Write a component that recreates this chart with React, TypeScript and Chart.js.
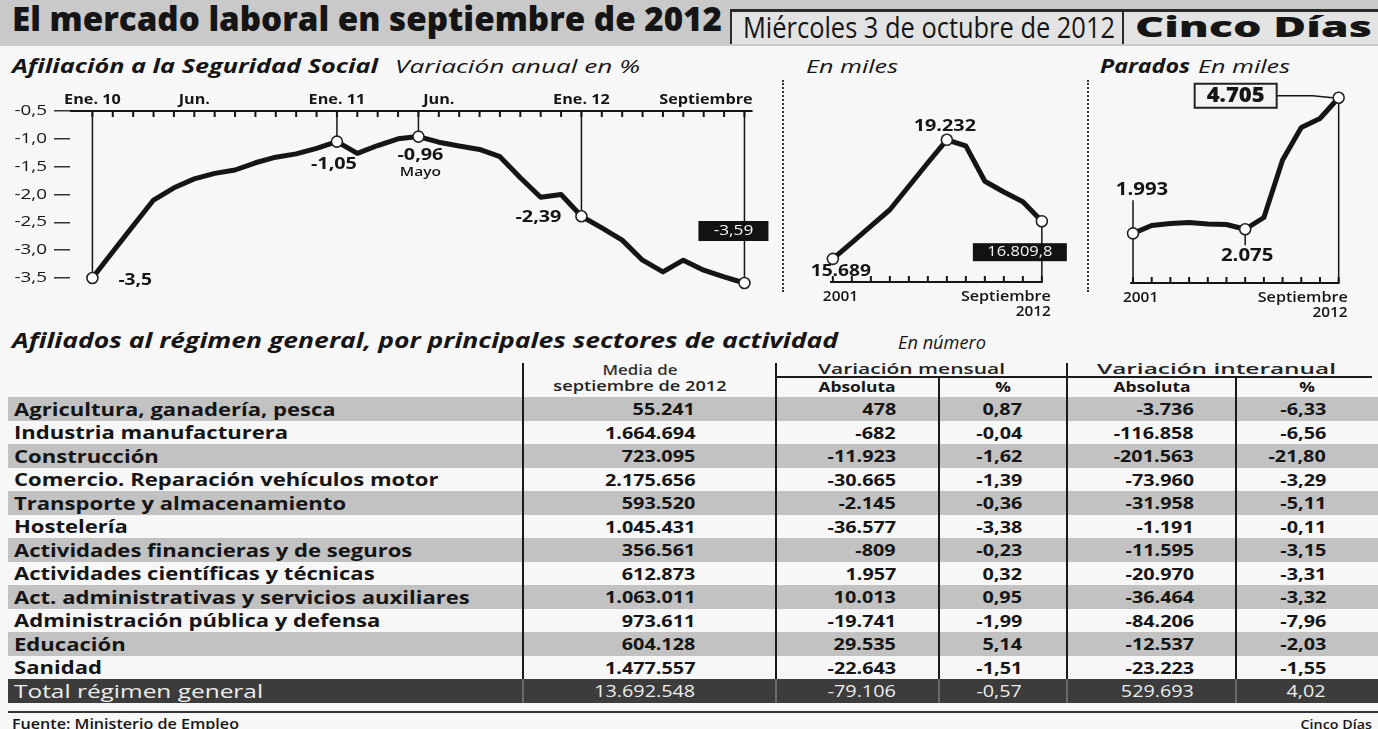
import React, { useEffect, useLayoutEffect, useRef } from 'react';
import { Chart, registerables } from 'chart.js';
Chart.register(...registerables);

const FONT = '"Open Sans", "Noto Sans", "DejaVu Sans", sans-serif';
const INK = '#151515';
const W = 1378;
const H = 729;
const SX = 1.2;

// ---------------- data ----------------
// Afiliación a la Seguridad Social, variación anual en % (Ene. 2010 - Sep. 2012)
const afiliacionVariacion = [
  -3.5, -3.03, -2.56, -2.1, -1.88, -1.72, -1.62, -1.56, -1.43, -1.33, -1.27, -1.17,
  -1.05, -1.26, -1.12, -1.0, -0.96, -1.06, -1.13, -1.19, -1.32, -1.7, -2.05, -2.0,
  -2.39, -2.6, -2.82, -3.18, -3.39, -3.18, -3.36, -3.48, -3.59,
];
const afiliacionEjeTexto = ['Ene. 10', 'Jun.', 'Ene. 11', 'Jun.', 'Ene. 12', 'Septiembre'];
const afiliacionEjeMes = [0, 5, 12, 17, 24, 32];
const afiliacionMarcas = [0, 12, 16, 24, 32];
const afiliacionMarcasTexto = ['-3,5', '-1,05', '-0,96', '-2,39', '-3,59'];

// Afiliados, en miles (2001 - septiembre 2012)
const anios = [2001, 2002, 2003, 2004, 2005, 2006, 2007, 2008, 2009, 2010, 2011, 2012];
const afiliadosMiles = [15.689, 16.17, 16.66, 17.15, 17.85, 18.55, 19.232, 19.05, 18.0, 17.68, 17.39, 16.8098];
const afiliadosMarcas = [0, 6, 11];
const afiliadosMarcasTexto = ['15.689', '19.232', '16.809,8'];

// Parados, en miles
const paradosMiles = [1.993, 2.15, 2.19, 2.21, 2.18, 2.17, 2.075, 2.31, 3.46, 4.11, 4.29, 4.705];
const paradosMarcas = [0, 6, 11];
const paradosMarcasTexto = ['1.993', '2.075', '4.705'];

// Tabla
const sectores = [
  'Agricultura, ganadería, pesca',
  'Industria manufacturera',
  'Construcción',
  'Comercio. Reparación vehículos motor',
  'Transporte y almacenamiento',
  'Hostelería',
  'Actividades financieras y de seguros',
  'Actividades científicas y técnicas',
  'Act. administrativas y servicios auxiliares',
  'Administración pública y defensa',
  'Educación',
  'Sanidad',
  'Total régimen general',
];
const mediaSeptiembre = ['55.241', '1.664.694', '723.095', '2.175.656', '593.520', '1.045.431', '356.561', '612.873', '1.063.011', '973.611', '604.128', '1.477.557', '13.692.548'];
const mensualAbsoluta = ['478', '-682', '-11.923', '-30.665', '-2.145', '-36.577', '-809', '1.957', '10.013', '-19.741', '29.535', '-22.643', '-79.106'];
const mensualPct = ['0,87', '-0,04', '-1,62', '-1,39', '-0,36', '-3,38', '-0,23', '0,32', '0,95', '-1,99', '5,14', '-1,51', '-0,57'];
const interanualAbsoluta = ['-3.736', '-116.858', '-201.563', '-73.960', '-31.958', '-1.191', '-11.595', '-20.970', '-36.464', '-84.206', '-12.537', '-23.223', '529.693'];
const interanualPct = ['-6,33', '-6,56', '-21,80', '-3,29', '-5,11', '-0,11', '-3,15', '-3,31', '-3,32', '-7,96', '-2,03', '-1,55', '4,02'];

// ---------------- canvas helpers ----------------
type Ctx = CanvasRenderingContext2D;
function seg(ctx: Ctx, x1: number, y1: number, x2: number, y2: number, w = 1.5, color = INK) {
  ctx.save();
  ctx.strokeStyle = color;
  ctx.lineWidth = w;
  ctx.beginPath();
  ctx.moveTo(x1, y1);
  ctx.lineTo(x2, y2);
  ctx.stroke();
  ctx.restore();
}
function txt(
  ctx: Ctx,
  s: string,
  x: number,
  y: number,
  o: { size?: number; weight?: number; align?: CanvasTextAlign; color?: string; sx?: number } = {}
) {
  const { size = 14, weight = 700, align = 'center', color = INK, sx = SX } = o;
  ctx.save();
  ctx.font = `${weight} ${size}px ${FONT}`;
  ctx.fillStyle = color;
  ctx.textAlign = align;
  ctx.textBaseline = 'middle';
  ctx.translate(x, y);
  ctx.scale(sx, 1);
  ctx.fillText(s, 0, 0);
  ctx.restore();
}
function rect(ctx: Ctx, x1: number, y1: number, x2: number, y2: number, fill: string, stroke?: string, lw = 2) {
  ctx.save();
  ctx.fillStyle = fill;
  ctx.fillRect(x1, y1, x2 - x1, y2 - y1);
  if (stroke) {
    ctx.strokeStyle = stroke;
    ctx.lineWidth = lw;
    ctx.strokeRect(x1, y1, x2 - x1, y2 - y1);
  }
  ctx.restore();
}

const lineDataset = (data: { x: number; y: number }[], marks: number[]) => ({
  data,
  borderColor: INK,
  borderWidth: 5,
  tension: 0,
  clip: false as any,
  borderJoinStyle: 'round' as const,
  borderCapStyle: 'round' as const,
  pointRadius: (c: any) => (marks.includes(c.dataIndex) ? 5.5 : 0),
  pointBackgroundColor: '#ffffff',
  pointBorderColor: '#222',
  pointBorderWidth: 1.6,
  pointHoverRadius: 0,
});

function afiliacionConfig(): any {
  const deco = {
    id: 'afiliacionDeco',
    beforeDatasetsDraw(chart: any) {
      const { ctx, chartArea: a, scales } = chart;
      const x = scales.x;
      const y = scales.y;
      for (const t of y.ticks) {
        txt(ctx, Number(t.value).toFixed(1).replace('.', ','), a.left - 23, y.getPixelForValue(t.value), {
          size: 14.5,
          weight: 400,
          align: 'right',
          sx: 1.3,
        });
      }
      seg(ctx, a.left, a.top, a.right, a.top, 2);
      afiliacionVariacion.forEach((_, i) => {
        const px = x.getPixelForValue(i);
        seg(ctx, px, a.top, px, a.top + 6, 2);
      });
      afiliacionMarcas.forEach((i) => {
        const px = x.getPixelForValue(i);
        seg(ctx, px, a.top, px, y.getPixelForValue(afiliacionVariacion[i]), 1.5);
      });
      afiliacionEjeMes.forEach((m, k) => {
        const last = k === afiliacionEjeMes.length - 1;
        txt(ctx, afiliacionEjeTexto[k], last ? a.right : x.getPixelForValue(m), a.top - 11, {
          size: 13.5,
          weight: 700,
          align: last ? 'right' : 'center',
        });
      });
    },
    afterDatasetsDraw(chart: any) {
      const { ctx, scales } = chart;
      const p = afiliacionMarcas.map((i) => [scales.x.getPixelForValue(i), scales.y.getPixelForValue(afiliacionVariacion[i])]);
      const T = afiliacionMarcasTexto;
      txt(ctx, T[0], p[0][0] + 26, p[0][1] + 2, { size: 16, align: 'left' });
      txt(ctx, T[1], p[1][0] - 3, p[1][1] + 23, { size: 16.5 });
      txt(ctx, T[2], p[2][0] + 2, p[2][1] + 19, { size: 16.5 });
      txt(ctx, 'Mayo', p[2][0] + 2, p[2][1] + 36, { size: 13, weight: 600 });
      txt(ctx, T[3], p[3][0] - 20, p[3][1] + 1, { size: 16.5, align: 'right' });
      rect(ctx, p[4][0] - 46, p[4][1] - 62, p[4][0] + 24, p[4][1] - 42, '#121212');
      txt(ctx, T[4], p[4][0] - 11, p[4][1] - 52, { size: 15, weight: 400, color: '#f4f4f4', sx: 1.15 });
    },
  };
  return {
    type: 'line',
    data: { datasets: [lineDataset(afiliacionVariacion.map((v, i) => ({ x: i, y: v })), afiliacionMarcas)] },
    options: {
      responsive: false,
      animation: false,
      events: [],
      layout: { padding: { left: 0, top: 26, right: 17.4, bottom: 22 } },
      plugins: { legend: { display: false }, tooltip: { enabled: false } },
      scales: {
        x: { type: 'linear', display: false, min: -1.1, max: 32.4 },
        y: {
          type: 'linear',
          position: 'left',
          min: -3.5,
          max: -0.5,
          afterFit: (s: any) => {
            s.width = 70;
          },
          ticks: { stepSize: 0.5, display: false },
          grid: { drawOnChartArea: false, drawTicks: true, tickLength: 16, color: '#333', lineWidth: 1.5 },
          border: { display: false },
        },
      },
    },
    plugins: [deco],
  };
}

function yearAxis(ctx: Ctx, a: any, x: any) {
  seg(ctx, a.left, a.bottom, a.right, a.bottom, 2);
  anios.forEach((yr) => {
    const px = x.getPixelForValue(yr);
    seg(ctx, px, a.bottom, px, a.bottom - 6, 2);
  });
  const first = x.getPixelForValue(anios[0]);
  const last = x.getPixelForValue(anios[anios.length - 1]);
  txt(ctx, String(anios[0]), first - 10, a.bottom + 15, { size: 14, weight: 600, align: 'left', sx: 1.1 });
  txt(ctx, 'Septiembre', last + 9, a.bottom + 15, { size: 14, weight: 600, align: 'right', sx: 1.15 });
  txt(ctx, String(anios[anios.length - 1]), last + 9, a.bottom + 30, { size: 14, weight: 600, align: 'right', sx: 1.1 });
}

function afiliadosConfig(): any {
  const deco = {
    id: 'afiliadosDeco',
    beforeDatasetsDraw(chart: any) {
      const { ctx, chartArea: a, scales } = chart;
      yearAxis(ctx, a, scales.x);
      const i = afiliadosMarcas[2];
      const px = scales.x.getPixelForValue(anios[i]);
      seg(ctx, px, scales.y.getPixelForValue(afiliadosMiles[i]), px, a.bottom, 1.5);
    },
    afterDatasetsDraw(chart: any) {
      const { ctx, scales } = chart;
      const p = afiliadosMarcas.map((i) => [scales.x.getPixelForValue(anios[i]), scales.y.getPixelForValue(afiliadosMiles[i])]);
      const T = afiliadosMarcasTexto;
      txt(ctx, T[0], p[0][0] + 8, p[0][1] + 13, { size: 16 });
      txt(ctx, T[1], p[1][0] - 2, p[1][1] - 14, { size: 16.5 });
      rect(ctx, p[2][0] - 69, p[2][1] + 22, p[2][0] + 25, p[2][1] + 40, '#121212');
      txt(ctx, T[2], p[2][0] - 22, p[2][1] + 31, { size: 15, weight: 400, color: '#f4f4f4', sx: 1.1 });
    },
  };
  return {
    type: 'line',
    data: { datasets: [lineDataset(afiliadosMiles.map((v, i) => ({ x: anios[i], y: v })), afiliadosMarcas)] },
    options: {
      responsive: false,
      animation: false,
      events: [],
      layout: { padding: { left: 40, top: 14, right: 37.2, bottom: 43 } },
      plugins: { legend: { display: false }, tooltip: { enabled: false } },
      scales: {
        x: { type: 'linear', display: false, min: 2000.85, max: 2012.05 },
        y: { type: 'linear', display: false, min: 15, max: 20 },
      },
    },
    plugins: [deco],
  };
}

function paradosConfig(): any {
  const deco = {
    id: 'paradosDeco',
    beforeDatasetsDraw(chart: any) {
      const { ctx, chartArea: a, scales } = chart;
      yearAxis(ctx, a, scales.x);
      const p = paradosMarcas.map((i) => [scales.x.getPixelForValue(anios[i]), scales.y.getPixelForValue(paradosMiles[i])]);
      seg(ctx, p[0][0], p[0][1] - 33, p[0][0], a.bottom, 1.5);
      seg(ctx, p[1][0], p[1][1], p[1][0], p[1][1] + 16, 1.5);
      seg(ctx, p[2][0], p[2][1], p[2][0], a.bottom, 1.5);
    },
    afterDatasetsDraw(chart: any) {
      const { ctx, scales } = chart;
      const p = paradosMarcas.map((i) => [scales.x.getPixelForValue(anios[i]), scales.y.getPixelForValue(paradosMiles[i])]);
      const T = paradosMarcasTexto;
      txt(ctx, T[0], p[0][0] + 9, p[0][1] - 43, { size: 17 });
      txt(ctx, T[1], p[1][0] + 2, p[1][1] + 27, { size: 17 });
      ctx.save();
      ctx.strokeStyle = INK;
      ctx.lineWidth = 1.5;
      ctx.beginPath();
      ctx.moveTo(p[2][0] - 62, p[2][1] - 2);
      ctx.lineTo(p[2][0] - 26, p[2][1] - 2);
      ctx.lineTo(p[2][0] - 6, p[2][1]);
      ctx.stroke();
      ctx.restore();
      rect(ctx, p[2][0] - 144, p[2][1] - 14, p[2][0] - 62, p[2][1] + 10, '#f3f3f3', '#222', 2);
      txt(ctx, T[2], p[2][0] - 103, p[2][1] - 2, { size: 21, weight: 800, sx: 1.05 });
    },
  };
  return {
    type: 'line',
    data: { datasets: [lineDataset(paradosMiles.map((v, i) => ({ x: anios[i], y: v })), paradosMarcas)] },
    options: {
      responsive: false,
      animation: false,
      events: [],
      layout: { padding: { left: 35.2, top: 8, right: 38.4, bottom: 42 } },
      plugins: { legend: { display: false }, tooltip: { enabled: false } },
      scales: {
        x: { type: 'linear', display: false, min: 2000.85, max: 2012.05 },
        y: { type: 'linear', display: false, min: 1, max: 5 },
      },
    },
    plugins: [deco],
  };
}

function ChartCanvas({ left, top, width, height, make }: any) {
  const ref = useRef<HTMLCanvasElement>(null);
  useEffect(() => {
    const chart = new Chart(ref.current as HTMLCanvasElement, make());
    return () => chart.destroy();
  }, []);
  return <canvas ref={ref} width={width} height={height} style={{ position: 'absolute', left, top, width, height }} />;
}

// ---------------- DOM text helpers ----------------
function Fit({ x, y, w, size, weight = 400, italic = false, color = INK, children }: any) {
  const ref = useRef<HTMLSpanElement>(null);
  useLayoutEffect(() => {
    const el = ref.current;
    if (!el) return;
    el.style.transform = 'none';
    const nat = el.getBoundingClientRect().width;
    if (nat > 0) el.style.transform = `scaleX(${w / nat})`;
  }, [w, children]);
  return (
    <span
      ref={ref}
      style={{
        position: 'absolute',
        left: x,
        top: y - size * 0.7,
        fontSize: size,
        lineHeight: `${size * 1.4}px`,
        fontWeight: weight,
        fontStyle: italic ? 'italic' : 'normal',
        whiteSpace: 'nowrap',
        transformOrigin: 'left center',
        color,
        fontFamily: FONT,
      }}
    >
      {children}
    </span>
  );
}

function Cell({ x, y, align = 'left', size = 17, weight = 700, color = INK, sx = SX, children }: any) {
  const style: any = {
    position: 'absolute',
    top: y - size * 0.7,
    fontSize: size,
    lineHeight: `${size * 1.4}px`,
    fontWeight: weight,
    color,
    whiteSpace: 'nowrap',
    fontFamily: FONT,
  };
  if (align === 'left') {
    style.left = x;
    style.transformOrigin = 'left center';
    style.transform = `scaleX(${sx})`;
  } else if (align === 'right') {
    style.right = W - x;
    style.transformOrigin = 'right center';
    style.transform = `scaleX(${sx})`;
  } else {
    style.left = x;
    style.transformOrigin = 'center center';
    style.transform = `translateX(-50%) scaleX(${sx})`;
  }
  return <div style={style}>{children}</div>;
}

const box = (left: number, top: number, width: number, height: number, background: string) => (
  <div style={{ position: 'absolute', left, top, width, height, background }} />
);

export default function App() {
  const ROW0 = 397;
  const ROWH = 23.5;
  const nRows = sectores.length;
  const colRight = [695, 896, 1022, 1194, 1326];
  const cols = [mediaSeptiembre, mensualAbsoluta, mensualPct, interanualAbsoluta, interanualPct];
  const tableBottom = ROW0 + (nRows - 1) * ROWH;
  const vlines = [
    [523, 363],
    [776, 363],
    [939, 377],
    [1067, 363],
    [1236, 377],
  ];

  return (
    <div style={{ position: 'absolute', left: 0, top: 0, width: W, height: H, overflow: 'hidden', background: '#f7f7f7', fontFamily: FONT }}>
      {/* header band */}
      {box(0, 0, W, 46, '#c9c9c9')}
      <div
        style={{
          position: 'absolute',
          left: 730,
          top: 9,
          width: W - 730,
          height: 35,
          background: '#e3e3e3',
          borderTop: '3px solid #2a2a2a',
          borderLeft: '2px solid #2a2a2a',
          boxSizing: 'border-box',
        }}
      />
      {box(1122, 10, 2, 34, '#2a2a2a')}
      <Fit x={12} y={19} w={710} size={34} weight={800}>El mercado laboral en septiembre de 2012</Fit>
      <Fit x={743} y={27} w={372} size={29} weight={500}>Miércoles 3 de octubre de 2012</Fit>
      <Fit x={1135} y={27} w={237} size={28} weight={800}>Cinco Días</Fit>

      {/* sub titles */}
      <Fit x={12} y={66} w={366} size={19} weight={700} italic>Afiliación a la Seguridad Social</Fit>
      <Fit x={395} y={67} w={245} size={18} weight={400} italic>Variación anual en %</Fit>
      <Fit x={806} y={67} w={92} size={18} weight={400} italic>En miles</Fit>
      <Fit x={1100} y={66} w={90} size={19} weight={700} italic>Parados</Fit>
      <Fit x={1198} y={67} w={92} size={18} weight={400} italic>En miles</Fit>

      {/* dotted separators */}
      <div style={{ position: 'absolute', left: 782, top: 80, height: 212, borderLeft: '2px dotted #333' }} />
      <div style={{ position: 'absolute', left: 1087, top: 80, height: 212, borderLeft: '2px dotted #333' }} />

      {/* charts */}
      <ChartCanvas left={0} top={85} width={770} height={215} make={afiliacionConfig} />
      <ChartCanvas left={790} top={100} width={290} height={225} make={afiliadosConfig} />
      <ChartCanvas left={1095} top={75} width={283} height={250} make={paradosConfig} />

      {/* table title */}
      <Fit x={12} y={341} w={826} size={21} weight={700} italic>Afiliados al régimen general, por principales sectores de actividad</Fit>
      <Fit x={898} y={343} w={88} size={18} weight={400} italic>En número</Fit>

      {/* stripes */}
      {sectores.map((_, i) =>
        i % 2 === 0 ? (
          <div
            key={'s' + i}
            style={{
              position: 'absolute',
              left: 8,
              top: ROW0 + i * ROWH,
              width: W - 8,
              height: ROWH,
              background: i === nRows - 1 ? '#3c3c3c' : '#c2c2c2',
            }}
          />
        ) : null
      )}

      {/* grid lines */}
      {vlines.map(([x, t]) => (
        <div key={'v' + x} style={{ position: 'absolute', left: x - 1, top: t, width: 2, height: tableBottom - t, background: '#1a1a1a' }} />
      ))}
      {vlines.map(([x]) => (
        <div key={'vt' + x} style={{ position: 'absolute', left: x - 1, top: tableBottom, width: 2, height: ROWH, background: '#6a6a6a' }} />
      ))}
      {box(776, 376, 1372 - 776, 1.5, '#1a1a1a')}

      {/* header texts */}
      <Cell x={640} y={370} align="center" size={13.5} weight={600} color="#333" sx={1.25}>Media de</Cell>
      <Cell x={640} y={386} align="center" size={14} weight={600} color="#222" sx={1.3}>septiembre de 2012</Cell>
      <Fit x={818} y={368} w={187} size={15} weight={600} color="#222">Variación mensual</Fit>
      <Fit x={1097} y={368} w={239} size={15} weight={600} color="#222">Variación interanual</Fit>
      <Cell x={857} y={387} align="center" size={14.5} weight={700}>Absoluta</Cell>
      <Cell x={1003} y={387} align="center" size={14.5} weight={700}>%</Cell>
      <Cell x={1152} y={387} align="center" size={14.5} weight={700}>Absoluta</Cell>
      <Cell x={1307} y={387} align="center" size={14.5} weight={700}>%</Cell>

      {/* body */}
      {sectores.map((s, i) => {
        const y = ROW0 + i * ROWH + ROWH / 2;
        const total = i === nRows - 1;
        const color = total ? '#eeeeee' : INK;
        const weight = total ? 400 : 700;
        return (
          <React.Fragment key={'r' + i}>
            <Cell x={14} y={y} size={total ? 18.5 : 17.5} weight={weight} color={color} sx={total ? 1.32 : 1.26}>{s}</Cell>
            {cols.map((c, k) => (
              <Cell key={k} x={colRight[k]} y={y} align="right" size={16.5} weight={weight} color={color} sx={1.2}>
                {c[i]}
              </Cell>
            ))}
          </React.Fragment>
        );
      })}

      {/* footer */}
      {box(8, 711, W - 8, 1.5, '#333')}
      <Cell x={12} y={724} size={14} weight={600} sx={1.15}>Fuente: Ministerio de Empleo</Cell>
      <Cell x={1372} y={724} align="right" size={13} weight={600} sx={1.1}>Cinco Días</Cell>
    </div>
  );
}
